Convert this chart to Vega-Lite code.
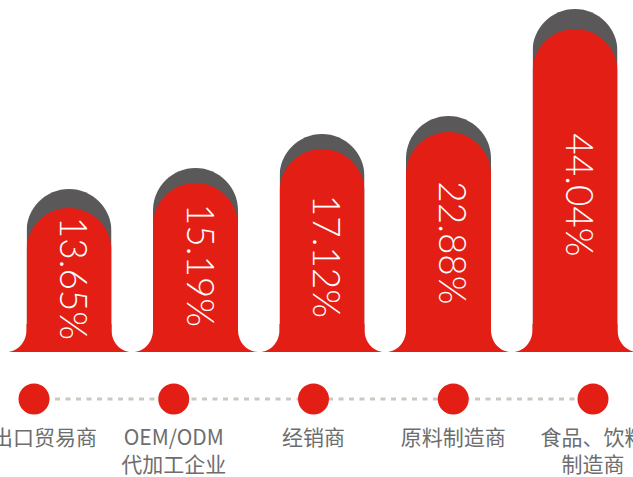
{
  "$schema": "https://vega.github.io/schema/vega-lite/v6.json",
  "width": 633,
  "height": 477,
  "autosize": "none",
  "padding": 0,
  "background": "white",
  "config": {"view": {"stroke": null}},
  "data": {
    "values": [
      {"category": "进出口贸易商", "label": "进出口贸易商", "share": 0.1365},
      {"category": "OEM/ODM代加工企业", "label": "OEM/ODM\n代加工企业", "share": 0.1519},
      {"category": "经销商", "label": "经销商", "share": 0.1712},
      {"category": "原料制造商", "label": "原料制造商", "share": 0.2288},
      {"category": "食品、饮料制造商", "label": "食品、饮料\n制造商", "share": 0.4404}
    ]
  },
  "layer": [
    {
      "encoding": {
        "x": {"field": "category", "type": "nominal", "sort": null, "axis": null,
              "scale": {"type": "band", "range": [26.5, 617.5], "paddingInner": 0.328, "paddingOuter": 0}}
      },
      "layer": [
        {
          "mark": {"type": "bar", "color": "#5a5858", "cornerRadiusTopLeft": 42.5, "cornerRadiusTopRight": 42.5},
          "encoding": {
            "y": {"field": "share", "type": "quantitative", "axis": null,
                  "scale": {"domain": [0, 0.1365, 0.1519, 0.1712, 0.2288, 0.4404], "range": [352, 189, 168, 134, 116, 9], "nice": false, "zero": false}}
          }
        },
        {
          "mark": {"type": "bar", "color": "#e31e14", "cornerRadiusTopLeft": 42.5, "cornerRadiusTopRight": 42.5},
          "encoding": {
            "y": {"field": "share", "type": "quantitative", "axis": null,
                  "scale": {"domain": [0, 0.1365, 0.1519, 0.1712, 0.2288, 0.4404], "range": [352, 208, 183, 149, 132, 29], "nice": false, "zero": false}}
          }
        },
        {
          "mark": {"type": "point", "shape": "M -1 0 C -0.823 0 -0.68 -0.158 -0.68 -0.352 L -0.68 -0.45 L 0.68 -0.45 L 0.68 -0.352 C 0.68 -0.158 0.823 0 1 0 Z", "size": 15625, "filled": true, "color": "#e31e14", "opacity": 1, "strokeWidth": 0},
          "encoding": {
            "y": {"datum": 0, "type": "quantitative", "axis": null, "scale": {"domain": [0, 1], "range": [352, 0], "nice": false}}
          }
        },
        {
          "mark": {"type": "text", "angle": 90, "align": "center", "baseline": "middle", "color": "white", "font": "Lato", "fontWeight": 300, "fontSize": 37, "xOffset": 2},
          "encoding": {
            "y": {"field": "share", "type": "quantitative", "axis": null,
                  "scale": {"domain": [0.1365, 0.1519, 0.1712, 0.2288, 0.4404], "range": [278.5, 265.5, 256.5, 243, 195], "nice": false, "zero": false}},
            "text": {"field": "share", "type": "quantitative", "format": ".2%"}
          }
        }
      ],
      "resolve": {"scale": {"y": "independent"}}
    },
    {
      "encoding": {
        "x": {"field": "category", "type": "nominal", "sort": null, "axis": null,
              "scale": {"type": "point", "range": [34, 593], "padding": 0}}
      },
      "layer": [
        {
          "mark": {"type": "line", "color": "#cbc9c0", "strokeWidth": 3, "strokeDash": [5, 5.5]},
          "encoding": {
            "y": {"datum": 0, "type": "quantitative", "axis": null, "scale": {"domain": [0, 1], "range": [399, 428], "nice": false, "zero": false}}
          }
        },
        {
          "mark": {"type": "point", "filled": true, "size": 961, "color": "#e31e14", "opacity": 1},
          "encoding": {
            "y": {"datum": 0, "type": "quantitative", "axis": null, "scale": {"domain": [0, 1], "range": [399, 428], "nice": false, "zero": false}}
          }
        },
        {
          "mark": {"type": "text", "baseline": "top", "align": "center", "fontSize": 21, "lineHeight": 27, "lineBreak": "\n", "color": "#6d6d6d", "font": "Noto Sans CJK SC"},
          "encoding": {
            "y": {"datum": 1, "type": "quantitative", "axis": null, "scale": {"domain": [0, 1], "range": [399, 428], "nice": false, "zero": false}},
            "text": {"field": "label", "type": "nominal"}
          }
        }
      ]
    }
  ],
  "resolve": {"scale": {"x": "independent", "y": "independent"}}
}
